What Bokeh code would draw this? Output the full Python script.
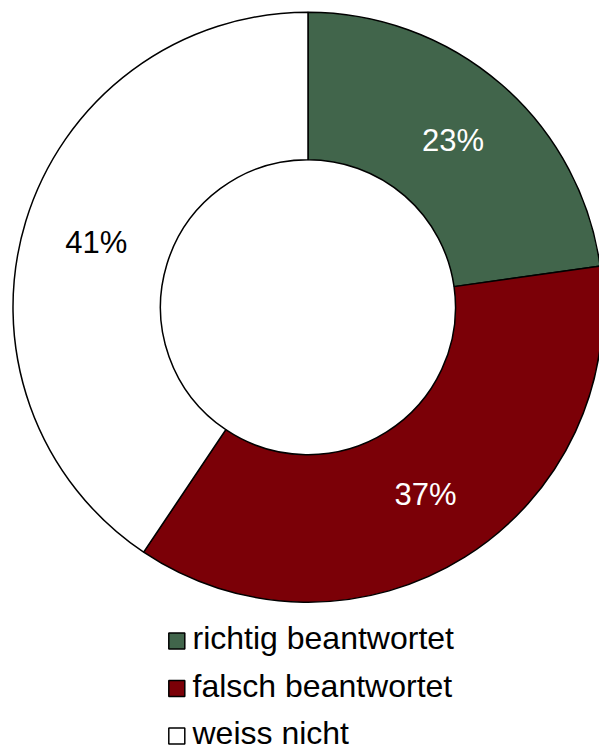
import math
from bokeh.plotting import figure
from bokeh.models import Range1d, ColumnDataSource
from bokeh.core.properties import value
from bokeh.embed import file_html
from bokeh.resources import INLINE

# ---- data ----
categories = ["richtig beantwortet", "falsch beantwortet", "weiss nicht"]
shares = [23, 37, 41]
pct_labels = ["23%", "37%", "41%"]
colors = ["#41654B", "#7B0007", "#FFFFFF"]
label_colors = ["white", "white", "black"]

# ---- layout (image pixels -> data units 1:1) ----
W, H = 599, 751
cx, cy_img = 307.5, 306.7
cy = H - cy_img
R_OUT, R_IN = 295.0, 147.5
FONT = "Liberation Sans"

total = float(sum(shares))
cum = 0.0
starts, ends, mids = [], [], []
for s in shares:
    a0 = math.pi / 2 - 2 * math.pi * (cum + s) / total
    a1 = math.pi / 2 - 2 * math.pi * cum / total
    starts.append(a0)
    ends.append(a1)
    mids.append((a0 + a1) / 2)
    cum += s

r_lab = (R_IN + R_OUT) / 2
wedges = ColumnDataSource(dict(
    x=[cx] * len(shares), y=[cy] * len(shares),
    start=starts, end=ends, color=colors, cat=categories,
))
labels = ColumnDataSource(dict(
    x=[cx + r_lab * math.cos(m) for m in mids],
    y=[cy + r_lab * math.sin(m) for m in mids],
    text=pct_labels, color=label_colors,
))

p = figure(width=W, height=H, output_backend="svg", toolbar_location=None,
           x_range=Range1d(0, W), y_range=Range1d(0, H),
           x_axis_type=None, y_axis_type=None,
           min_border=0, min_border_left=0, min_border_right=0,
           min_border_top=0, min_border_bottom=0)
p.grid.visible = False
p.outline_line_color = None
p.background_fill_color = "white"
p.border_fill_color = "white"

p.annular_wedge(x="x", y="y", inner_radius=R_IN, outer_radius=R_OUT,
                start_angle="start", end_angle="end", direction="anticlock",
                fill_color="color", line_color="black", line_width=1.5,
                source=wedges)

p.text(x="x", y="y", text="text", text_color="color",
       text_font=value(FONT), text_font_size="31px",
       text_align="center", text_baseline="middle", source=labels)

# ---- legend (manual, data-driven) ----
leg_sq_x = 176.3
leg_txt_x = 192
leg_row0 = 640.5
leg_gap = 47.5
leg = ColumnDataSource(dict(
    sx=[leg_sq_x] * len(categories),
    sy=[H - (leg_row0 + i * leg_gap) for i in range(len(categories))],
    tx=[leg_txt_x] * len(categories),
    ty=[H - (leg_row0 + i * leg_gap - 3.0) for i in range(len(categories))],
    color=colors, text=categories,
))
p.scatter(x="sx", y="sy", marker="square", size=16, fill_color="color",
          line_color="black", line_width=1.5, source=leg)
p.text(x="tx", y="ty", text="text", text_color="black",
       text_font=value(FONT), text_font_size="32px",
       text_align="left", text_baseline="middle", source=leg)

open("out.html", "w").write(file_html(p, INLINE))
